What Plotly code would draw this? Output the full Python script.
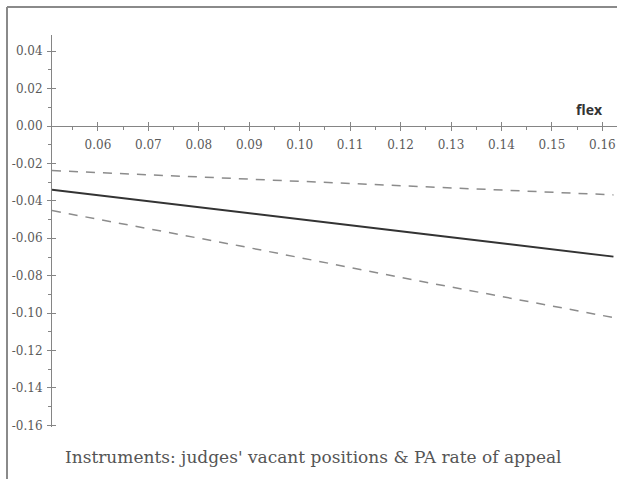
import plotly.graph_objects as go

# Marginal effect of flex with its confidence band
flex = [0.0509, 0.088, 0.125, 0.1622]
effect = [-0.0341, -0.0458, -0.0578, -0.0698]
upper = [-0.0238, -0.0281, -0.0323, -0.0368]
lower = [-0.0452, -0.0640, -0.0835, -0.1024]

x_range = [0.0509, 0.1629]
y_range = [-0.1609, 0.0487]
x_ticks = [0.06, 0.07, 0.08, 0.09, 0.10, 0.11, 0.12, 0.13, 0.14, 0.15, 0.16]
y_ticks = [0.04, 0.02, 0.00, -0.02, -0.04, -0.06, -0.08, -0.10, -0.12, -0.14, -0.16]
x_labels = ["%.2f" % v for v in x_ticks]
y_labels = ["%.2f" % v for v in y_ticks]  # plain hyphen minus signs

caption = "Instruments: judges' vacant positions & PA rate of appeal"
x_title = "flex"

W, H = 617, 479
ml, mr, mt, mb = 52, 0, 35, 52
pw, ph = W - ml - mr, H - mt - mb

def px_x(p):
    return (p - ml) / pw

def px_y(p):
    return (H - mb - p) / ph

axis_color = "#858585"
tick_font = dict(family="DejaVu Serif", size=12, color="#5a5a5a")
zero_pos = (0 - y_range[0]) / (y_range[1] - y_range[0])

fig = go.Figure()
band = dict(color="#8c8c8c", width=1.5, dash="9px,8px")
fig.add_trace(go.Scatter(x=flex, y=upper, mode="lines", line=band, hoverinfo="skip"))
fig.add_trace(go.Scatter(x=flex, y=lower, mode="lines", line=band, hoverinfo="skip"))
fig.add_trace(go.Scatter(x=flex, y=effect, mode="lines",
                         line=dict(color="#333333", width=2), hoverinfo="skip"))
# companion axes carrying the inward half of each tick
fig.add_trace(go.Scatter(x=[None], y=[None], xaxis="x2", yaxis="y2",
                         mode="lines", hoverinfo="skip"))

common_x = dict(range=x_range, anchor="free", position=zero_pos,
                tickmode="array", tickvals=x_ticks, tickcolor=axis_color,
                ticklen=4, tickwidth=1, showgrid=False, zeroline=False,
                minor=dict(tickmode="linear", tick0=0.055, dtick=0.01,
                           ticklen=3, tickcolor=axis_color, showgrid=False))
common_y = dict(range=y_range, tickmode="array", tickvals=y_ticks,
                tickcolor=axis_color, ticklen=4, tickwidth=1,
                showgrid=False, zeroline=False,
                minor=dict(tickmode="linear", tick0=0.01, dtick=0.02,
                           ticklen=3, tickcolor=axis_color, showgrid=False))

fig.update_layout(
    width=W, height=H,
    margin=dict(l=ml, r=mr, t=mt, b=mb, pad=0),
    paper_bgcolor="white", plot_bgcolor="white",
    showlegend=False,
    xaxis=dict(**common_x, ticks="outside", showline=True, linecolor=axis_color,
               linewidth=1, ticktext=x_labels, tickfont=tick_font,
               ticklabelstandoff=4),
    yaxis=dict(**common_y, ticks="outside", showline=True, linecolor=axis_color,
               linewidth=1, ticktext=y_labels, tickfont=tick_font, anchor="x",
               ticklabelstandoff=2),
    xaxis2=dict(**common_x, ticks="inside", overlaying="x", showline=False,
                showticklabels=False),
    yaxis2=dict(**common_y, ticks="inside", overlaying="y", anchor="x2",
                showline=False, showticklabels=False),
    annotations=[
        dict(text=caption, xref="paper", yref="paper",
             x=px_x(313), y=px_y(457), xanchor="center", yanchor="middle",
             showarrow=False,
             font=dict(family="DejaVu Serif", size=17, color="#555555")),
        dict(text="<b>" + x_title + "</b>", xref="paper", yref="paper",
             x=px_x(589), y=px_y(109), xanchor="center", yanchor="middle",
             showarrow=False,
             font=dict(family="Open Sans", size=14, color="#333333")),
    ],
    shapes=[
        dict(type="line", xref="paper", yref="paper",
             x0=px_x(7), x1=px_x(7), y0=px_y(7), y1=px_y(479),
             line=dict(color="#8a8a8a", width=2)),
        dict(type="line", xref="paper", yref="paper",
             x0=px_x(7), x1=px_x(617), y0=px_y(7), y1=px_y(7),
             line=dict(color="#8a8a8a", width=2)),
    ],
)

fig.write_html("out.html")
